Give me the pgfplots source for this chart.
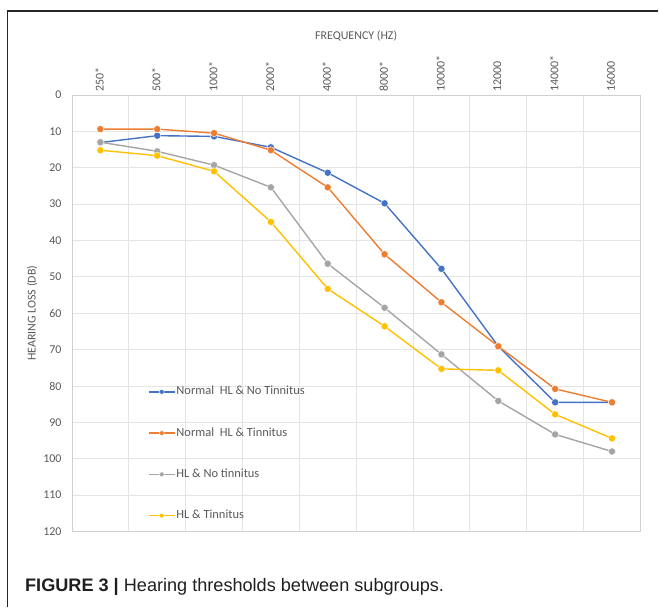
\documentclass[border=0pt]{standalone}
\usepackage{fontspec}
\setmainfont{Carlito}
\newfontfamily\capfont{Liberation Sans}
\usepackage{pgfplots}
\pgfplotsset{compat=1.18}

\definecolor{sBlue}{HTML}{4472C4}
\definecolor{sOrange}{HTML}{ED7D31}
\definecolor{sGray}{HTML}{A5A5A5}
\definecolor{sYellow}{HTML}{FFC000}
\definecolor{txt}{HTML}{595959}
\definecolor{gridc}{HTML}{E4E4E4}

\pgfplotsset{
  serie/.style={color=#1, line width=1.4bp, mark=*,
    mark options={solid, mark size=3.6bp, fill=#1, draw=white, line width=0.4bp}},
}

\begin{document}
\begin{tikzpicture}
  \begin{axis}[
    name=ax,
    scale only axis,
    width=569bp, height=437bp,
    xmin=-0.5, xmax=9.5,
    ymin=0, ymax=120,
    y dir=reverse,
    xtick={0,...,9},
    xticklabels={250*,500*,1000*,2000*,4000*,8000*,10000*,12000,14000*,16000},
    minor xtick={-0.5,0.5,...,9.5},
    ytick={0,10,...,120},
    xticklabel pos=upper,
    major tick length=0pt, minor tick length=0pt,
    xmajorgrids=false, xminorgrids=true, ymajorgrids=true,
    grid style={gridc, line width=0.8bp},
    minor grid style={gridc, line width=0.8bp},
    axis line style={draw=gridc!80!gray, line width=0.8bp},
    /pgf/number format/assume math mode=true,
    tick label style={font=\fontsize{12}{14}\selectfont, text=txt},
    xticklabel style={rotate=90, anchor=west, yshift=1bp},
    yticklabel style={xshift=-7bp},
    xlabel={FREQUENCY (HZ)},
    ylabel={HEARING LOSS (DB)},
    label style={font=\fontsize{12}{14}\selectfont, text=txt},
    xlabel style={at={(axis description cs:0.5,1.128)}, anchor=base},
    ylabel style={at={(axis description cs:-0.0703,0.5)}, anchor=center},
    legend style={at={(axis description cs:0.1336,0.3364)}, anchor=north west,
      draw=none, fill=none, inner sep=0pt, row sep=27.3bp,
      font=\fontsize{12.5}{14}\selectfont, text=txt,
      nodes={inner sep=1bp, text height=9bp, text depth=3bp}},
    legend cell align=left,
    legend image code/.code={
      \draw[mark repeat=2, mark phase=2, #1, every mark/.append style={scale=0.68}]
        plot coordinates {(0bp,0bp) (13bp,0bp) (26bp,0bp)};},
  ]
  \addplot[serie=sBlue] coordinates {
    (0,13.1) (1,11.2) (2,11.4) (3,14.4) (4,21.4)
    (5,29.8) (6,47.8) (7,69.1) (8,84.5) (9,84.5)};
  \addlegendentry{Normal\ \ HL \& No Tinnitus}
  \addplot[serie=sOrange] coordinates {
    (0,9.4) (1,9.4) (2,10.5) (3,15.2) (4,25.4)
    (5,43.8) (6,57.0) (7,69.1) (8,80.8) (9,84.5)};
  \addlegendentry{Normal\ \ HL \& Tinnitus}
  \addplot[serie=sGray] coordinates {
    (0,13.0) (1,15.5) (2,19.3) (3,25.4) (4,46.4)
    (5,58.5) (6,71.3) (7,84.1) (8,93.3) (9,98.0)};
  \addlegendentry{HL \& No tinnitus}
  \addplot[serie=sYellow] coordinates {
    (0,15.2) (1,16.7) (2,21.0) (3,34.9) (4,53.3)
    (5,63.6) (6,75.3) (7,75.7) (8,87.8) (9,94.4)};
  \addlegendentry{HL \& Tinnitus}
  \end{axis}
  % frame and caption
  \draw[line width=1.2bp, black!85] (-64.5bp,-76bp) -- (-64.5bp,521bp) -- (587bp,521bp);
  \node[anchor=base west, inner sep=0pt, font=\capfont\fontsize{18.2}{20}\selectfont, text=black!88]
    at (-47bp,-60.3bp) {\textbf{FIGURE 3 |} Hearing thresholds between subgroups.};
  \path[use as bounding box] (-72bp,-76bp) rectangle (587bp,532bp);
\end{tikzpicture}
\end{document}
